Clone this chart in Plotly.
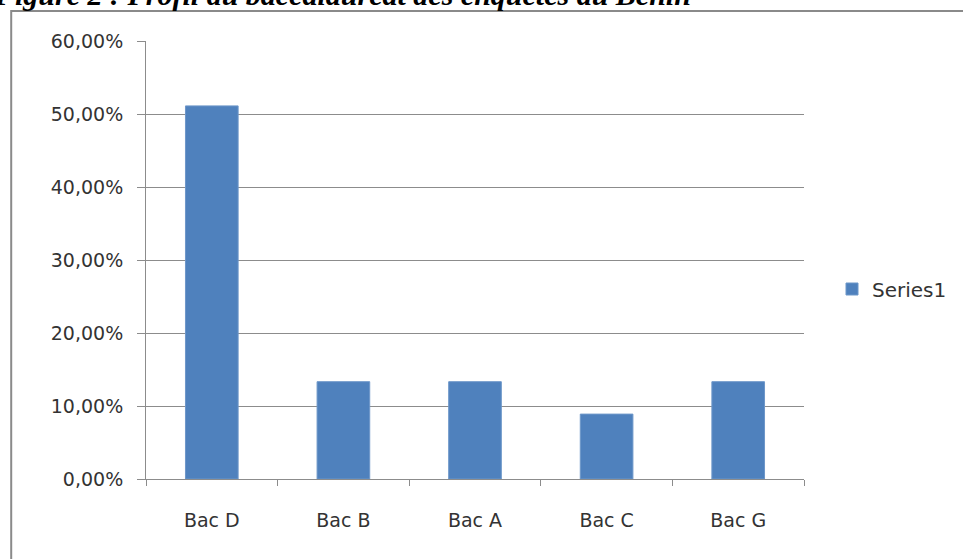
import plotly.graph_objects as go

# Share of respondents by baccalaureate series
categories = ["Bac D", "Bac B", "Bac A", "Bac C", "Bac G"]
shares = [0.5111, 0.1333, 0.1333, 0.0889, 0.1333]
series_name = "Series1"
y_ticks = [0.0, 0.1, 0.2, 0.3, 0.4, 0.5, 0.6]
title_text = "Figure 2 : Profil du baccalauréat des enquêtés au Bénin"

W, H = 963, 559
L, R, T, B = 146, 158, 41, 80
pw, ph = W - L - R, H - T - B


def px_x(x):
    return (x - L) / pw


def px_y(y):
    return (H - B - y) / ph


fig = go.Figure(
    go.Bar(
        x=categories,
        y=shares,
        name=series_name,
        marker=dict(color="#4F81BD", line=dict(color="#6d97c9", width=1)),
        showlegend=True,
    )
)

axis_font = dict(family="DejaVu Sans", size=19, color="#333333")

fig.update_layout(
    width=W,
    height=H,
    margin=dict(l=L, r=R, t=T, b=B, pad=0),
    paper_bgcolor="white",
    plot_bgcolor="white",
    separators=", ",
    bargap=0.6,
    showlegend=True,
    legend=dict(
        x=px_x(832),
        y=px_y(289),
        xanchor="left",
        yanchor="middle",
        font=dict(family="DejaVu Sans", size=20, color="#333333"),
        bgcolor="rgba(0,0,0,0)",
    ),
    xaxis=dict(
        showgrid=False,
        showline=True,
        linecolor="#8c8c8c",
        linewidth=1,
        ticks="outside",
        tickson="boundaries",
        ticklen=6,
        tickcolor="#8c8c8c",
        tickfont=axis_font,
        ticklabelstandoff=24,
    ),
    yaxis=dict(
        range=[0, 0.6],
        tickvals=y_ticks,
        tickformat=".2%",
        showgrid=True,
        gridcolor="#8c8c8c",
        gridwidth=1,
        zeroline=False,
        showline=True,
        linecolor="#8c8c8c",
        linewidth=1,
        ticks="outside",
        ticklen=8,
        tickcolor="#8c8c8c",
        tickfont=axis_font,
        ticklabelstandoff=10,
    ),
    shapes=[
        # outer chart frame (runs past the right and bottom edges)
        dict(
            type="rect",
            xref="paper",
            yref="paper",
            x0=px_x(11),
            x1=px_x(990),
            y0=px_y(590),
            y1=px_y(11),
            line=dict(color="#8a8a8a", width=2),
            fillcolor="rgba(0,0,0,0)",
            layer="below",
        ),
    ],
    annotations=[
        dict(
            text="<b><i>" + title_text + "</i></b>",
            xref="paper",
            yref="paper",
            x=px_x(-8),
            y=px_y(-6),
            xanchor="left",
            yanchor="middle",
            showarrow=False,
            font=dict(family="Liberation Serif", size=30, color="black"),
        )
    ],
)

fig.write_html("out.html")
